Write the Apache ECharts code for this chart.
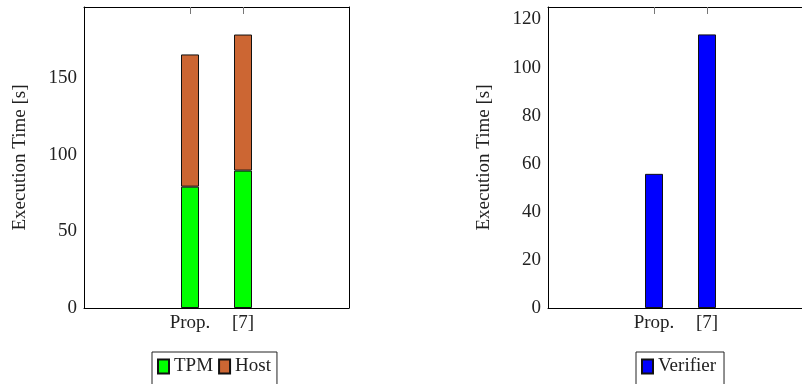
<!DOCTYPE html>
<html><head><meta charset="utf-8">
<script src="https://cdn.jsdelivr.net/npm/echarts@6/dist/echarts.min.js"></script>
<style>html,body{margin:0;padding:0;background:#fff}#c{width:802px;height:384px}</style>
</head><body><div id="c"></div>
<script>
// Categories (padded with empty slots so the two bars sit in the middle)
const categories = ['', '', 'Prop.', '[7]', '', ''];
const tpmValues = [null, null, 79.3, 89.8, null, null];
const hostValues = [null, null, 86.4, 88.9, null, null];
const verifierValues = [null, null, 55.8, 113.8, null, null];
const leftTicks = [0, 50, 100, 150];
const rightTicks = [0, 20, 40, 60, 80, 100, 120];

const FONT = 'Liberation Serif';
const chart = echarts.init(document.getElementById('c'));
const grids = [
  {left: 84, top: 7, width: 265, height: 301, outerBoundsMode: 'none', containLabel: false},
  {left: 548, top: 7, width: 265, height: 301, outerBoundsMode: 'none', containLabel: false}
];
function xAxes(gi) {
  const tickInt = (i, v) => v !== '';
  return [
    {type: 'category', gridIndex: gi, data: categories, boundaryGap: false, position: 'bottom',
     axisLine: {onZero: false, lineStyle: {color: '#000', width: 1}},
     axisTick: {inside: true, length: 7, interval: tickInt, lineStyle: {color: '#777'}},
     axisLabel: {interval: 0, color: '#222', fontFamily: FONT, fontSize: 19, margin: 6}},
    {type: 'category', gridIndex: gi, data: categories, boundaryGap: false, position: 'top',
     axisLine: {onZero: false, lineStyle: {color: '#000', width: 1}},
     axisTick: {inside: true, length: 7, interval: tickInt, lineStyle: {color: '#777'}},
     axisLabel: {show: false}}
  ];
}
function yAxes(gi, max, interval, ticks) {
  return [
    {type: 'value', gridIndex: gi, min: 0, max: max, interval: interval, position: 'left',
     name: 'Execution Time [s]', nameLocation: 'middle', nameGap: 54,
     nameTextStyle: {fontFamily: FONT, fontSize: 19, color: '#222'},
     splitLine: {show: false},
     axisLine: {show: true, onZero: false, lineStyle: {color: '#000'}},
     axisTick: {inside: true, length: 7, lineStyle: {color: '#777'}},
     axisLabel: {color: '#222', fontFamily: FONT, fontSize: 19, margin: 7,
       formatter: v => ticks.indexOf(v) >= 0 ? String(v) : ''}},
    {type: 'value', gridIndex: gi, min: 0, max: max, interval: interval, position: 'right',
     splitLine: {show: false},
     axisLine: {show: true, onZero: false, lineStyle: {color: '#000'}},
     axisTick: {inside: true, length: 7, lineStyle: {color: '#777'}},
     axisLabel: {show: false}}
  ];
}
const barStyle = c => ({color: c, borderColor: '#111', borderWidth: 1});
chart.setOption({
  animation: false,
  grid: grids,
  xAxis: [...xAxes(0), ...xAxes(1)],
  yAxis: [...yAxes(0, 196.7, 50, leftTicks), ...yAxes(1, 125.2, 20, rightTicks)],
  legend: [
    {data: ['TPM', 'Host'], left: 152, top: 352, orient: 'horizontal',
     icon: 'rect', itemWidth: 11, itemHeight: 14, itemGap: 5,
     padding: [5, 6, 14, 5], borderColor: '#222', borderWidth: 1,
     textStyle: {fontFamily: FONT, fontSize: 19, color: '#222'}},
    {data: ['Verifier'], left: 636, top: 352, orient: 'horizontal',
     icon: 'rect', itemWidth: 11, itemHeight: 14,
     padding: [5, 8, 14, 5], borderColor: '#222', borderWidth: 1,
     textStyle: {fontFamily: FONT, fontSize: 19, color: '#222'}}
  ],
  series: [
    {name: 'TPM', type: 'bar', stack: 'a', xAxisIndex: 0, yAxisIndex: 0, barWidth: 18,
     data: tpmValues, itemStyle: barStyle('#00ff00')},
    {name: 'Host', type: 'bar', stack: 'a', xAxisIndex: 0, yAxisIndex: 0, barWidth: 18,
     data: hostValues, itemStyle: barStyle('#cc6633')},
    {name: 'Verifier', type: 'bar', xAxisIndex: 2, yAxisIndex: 2, barWidth: 18,
     data: verifierValues, itemStyle: barStyle('#0000ff')}
  ]
});
</script></body></html>
